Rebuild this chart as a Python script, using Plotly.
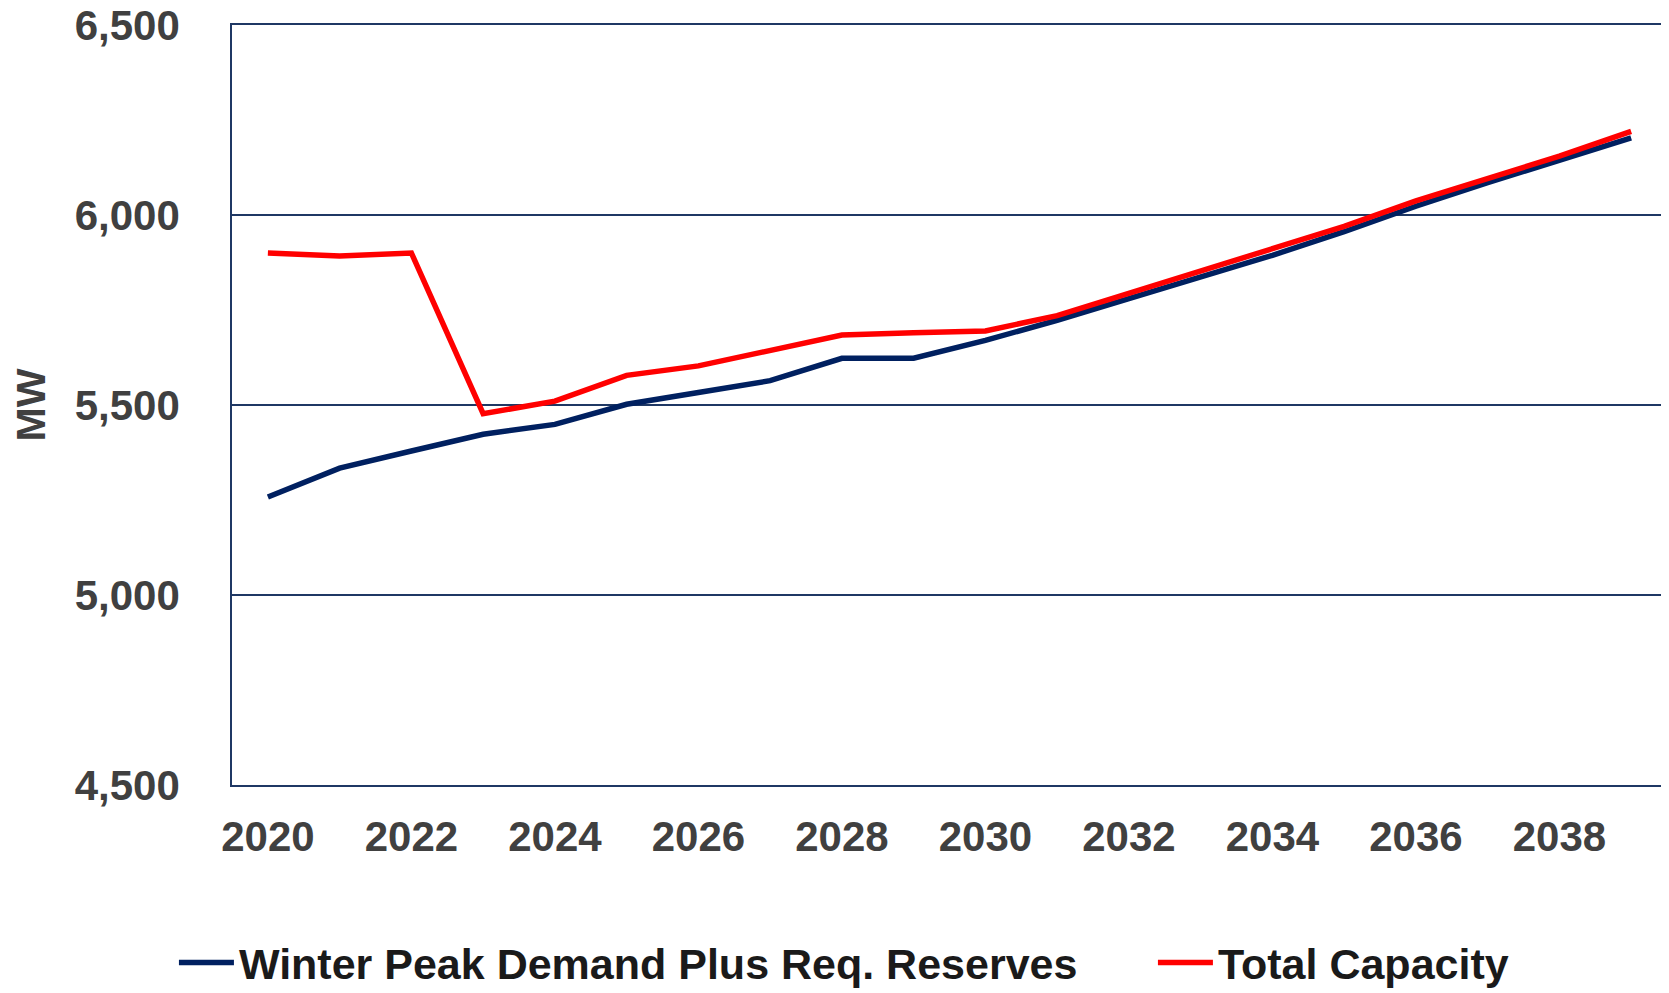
import plotly.graph_objects as go

years = list(range(2020, 2040))
demand_plus_reserves = [5258, 5334, 5379, 5423, 5449, 5502, 5533, 5564, 5623, 5623,
                        5670, 5723, 5780, 5836, 5894, 5956, 6023, 6085, 6144, 6203]
total_capacity = [5900, 5892, 5900, 5477, 5510, 5578, 5603, 5642, 5684, 5690,
                  5695, 5735, 5794, 5850, 5911, 5970, 6037, 6096, 6155, 6220]
y_ticks = [4500, 5000, 5500, 6000, 6500]
x_ticks = list(range(2020, 2040, 2))

NAVY = "#002060"
AXIS = "#1F3864"
FONT = "Liberation Sans, Arial, sans-serif"

fig = go.Figure()
fig.add_trace(go.Scatter(x=years, y=demand_plus_reserves, mode="lines",
                         name="Winter Peak Demand Plus Req. Reserves",
                         line=dict(color=NAVY, width=5.5), legend="legend"))
fig.add_trace(go.Scatter(x=years, y=total_capacity, mode="lines",
                         name="Total Capacity",
                         line=dict(color="#FF0000", width=5.5), legend="legend2"))

legend_font = dict(size=43, color="#1A1A1A", family=FONT, weight="bold")
# page body has an 8px default margin, so the figure is 8px smaller each way
fig.update_layout(
    width=1661, height=985,
    margin=dict(l=224, r=2, t=17, b=208, autoexpand=False),
    paper_bgcolor="white", plot_bgcolor="white",
    font=dict(family=FONT, color="#404040"),
    showlegend=True,
    legend=dict(orientation="h", xref="container", yref="container",
                x=0.0999, xanchor="left", y=0.031, yanchor="middle",
                font=legend_font, itemwidth=55, bgcolor="rgba(0,0,0,0)"),
    legend2=dict(orientation="h", xref="container", yref="container",
                 x=0.6893, xanchor="left", y=0.031, yanchor="middle",
                 font=legend_font, itemwidth=55, bgcolor="rgba(0,0,0,0)"),
)
fig.update_xaxes(range=[2019.5, 2039.5], tickvals=x_ticks, ticktext=[str(v) for v in x_ticks],
                 showgrid=False, showline=True, linecolor=AXIS, linewidth=1.5, mirror=True,
                 ticks="", ticklabelstandoff=14, zeroline=False, automargin=False,
                 ticklabeloverflow="allow",
                 tickfont=dict(size=42, color="#404040", family=FONT, weight="bold"))
fig.update_yaxes(range=[4500, 6500], tickvals=y_ticks, tickformat=",",
                 showgrid=True, gridcolor=AXIS, gridwidth=1.5,
                 showline=True, linecolor=AXIS, linewidth=1.5, mirror=True,
                 ticks="", ticklabelstandoff=42, zeroline=False, automargin=False,
                 ticklabeloverflow="allow",
                 tickfont=dict(size=42, color="#404040", family=FONT, weight="bold"),
                 title=dict(text="MW", standoff=18,
                            font=dict(size=41, color="#404040", family=FONT, weight="bold")))

fig.write_html("out.html")
